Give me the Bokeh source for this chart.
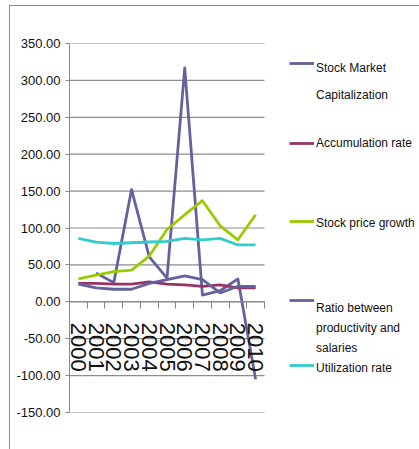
from bokeh.plotting import figure
from bokeh.models import (LinearAxis, FixedTicker, Range1d, NumeralTickFormatter,
                          Legend, LegendItem)
from bokeh.embed import file_html
from bokeh.resources import INLINE

nan = float("nan")

# ---- data ----
years = ["2000", "2001", "2002", "2003", "2004", "2005", "2006", "2007", "2008", "2009", "2010"]
stock_market_cap = [nan, 39, 26, 152, 61, 32, 317, 9, 15, 31, -105]
accumulation_rate = [25, 25, 24, 24, 27, 24, 23, 21, 23, 19, 19]
stock_price_growth = [31, 36, 41, 43, 62, 98, 118, 137, 103, 84, 118]
ratio_prod_salaries = [24, 19, 17, 17, 25, 30, 35, 30, 12, 21, 21]
utilization_rate = [86, 81, 79, 80, 81, 82, 86, 84, 86, 77, 77]
y_ticks = [-150, -100, -50, 0, 50, 100, 150, 200, 250, 300, 350]

series_names = [["Stock Market", "Capitalization"], ["Accumulation rate"],
                ["Stock price growth"], ["Ratio between", "productivity and", "salaries"],
                ["Utilization rate"]]
series_values = [stock_market_cap, accumulation_rate, stock_price_growth,
                 ratio_prod_salaries, utilization_rate]
series_colors = ["#62629e", "#993366", "#99cc00", "#62629e", "#33cccc"]

# legend layout (screen px from top of the page): glyph centre, text line centres
legend_glyph_y = [63, 143, 221, 300, 365]
legend_text_y = [[68, 95], [143], [223], [308, 328, 348], [368]]

idx = list(range(len(years)))
bounds = [i - 0.5 for i in range(len(years) + 1)]

FONT = "Liberation Sans"
W, H = 419, 449
LEFT, TOP, FRAME_H = 69, 43, 369
DATA_W = 195
FRAME_W = W - LEFT
FRAME_BOTTOM = TOP + FRAME_H
x_end = -0.5 + len(years) * FRAME_W / DATA_W

p = figure(width=W, height=H,
           min_border_left=LEFT, min_border_top=TOP, min_border_right=0,
           min_border_bottom=H - TOP - FRAME_H,
           x_range=Range1d(-0.5, x_end), y_range=Range1d(-150, 350),
           x_axis_type=None, output_backend="svg", toolbar_location=None)
p.outline_line_color = None
p.border_fill_alpha = 0
p.background_fill_alpha = 0
p.styles = {
    "background": "linear-gradient(#8c8c8c,#8c8c8c) 9px 5px / 1px 100% no-repeat, "
                  "linear-gradient(#8c8c8c,#8c8c8c) 9px 5px / 100% 1px no-repeat, #ffffff"
}

# y axis
yax = p.yaxis[0]
yax.ticker = FixedTicker(ticks=y_ticks)
yax.formatter = NumeralTickFormatter(format="0.00")
yax.major_label_text_font = FONT
yax.major_label_text_font_size = "13px"
yax.major_label_text_color = "#111111"
yax.major_tick_out = 4
yax.major_tick_in = 0
yax.minor_tick_line_color = None
yax.axis_line_color = "#888888"
yax.major_tick_line_color = "#888888"
yax.major_label_standoff = 5
p.xgrid.grid_line_color = None
p.ygrid.grid_line_color = None

# horizontal gridlines over the category area only
p.segment(x0=[bounds[0]] * len(y_ticks), x1=[bounds[-1]] * len(y_ticks),
          y0=y_ticks, y1=y_ticks, line_color="#8c8c8c", line_width=1.2)

# x axis: boundary ticks at zero
xt = LinearAxis(ticker=FixedTicker(ticks=bounds), fixed_location=0,
                bounds=(bounds[0], bounds[-1]),
                major_tick_out=7, major_tick_in=0, axis_line_color="#888888",
                major_tick_line_color="#888888", major_label_text_alpha=0,
                minor_tick_line_color=None)
p.add_layout(xt, "below")
# x axis: year labels
xl = LinearAxis(ticker=FixedTicker(ticks=idx), fixed_location=0,
                bounds=(bounds[0], bounds[-1]),
                major_label_overrides={i: y for i, y in zip(idx, years)},
                major_tick_line_color=None, minor_tick_line_color=None,
                axis_line_color=None, major_label_orientation="vertical",
                major_label_standoff=15, major_label_text_font=FONT,
                major_label_text_font_size="22px", major_label_text_color="#111111")
p.add_layout(xl, "below")

renderers = []
for vals, color in zip(series_values, series_colors):
    r = p.line(idx, vals, line_color=color, line_width=2.8, line_join="round")
    renderers.append(r)

LEG_X = 289 - LEFT
ROW_H = 20


def add_legend(label, rends, centre_y):
    vy = FRAME_BOTTOM - centre_y - ROW_H / 2
    lg = Legend(items=[LegendItem(label=label, renderers=rends)],
                location=(LEG_X, int(round(vy))), padding=0, margin=0, spacing=0,
                border_line_color=None, background_fill_alpha=0,
                glyph_width=25, glyph_height=ROW_H, label_standoff=2,
                label_text_font=FONT, label_text_font_size="12px",
                label_text_color="#111111", label_height=ROW_H)
    p.add_layout(lg)


for names, r, gy, tys in zip(series_names, renderers, legend_glyph_y, legend_text_y):
    add_legend("", [r], gy)
    for name, ty in zip(names, tys):
        add_legend(name, [], ty)

open("out.html", "w").write(file_html(p, INLINE))
